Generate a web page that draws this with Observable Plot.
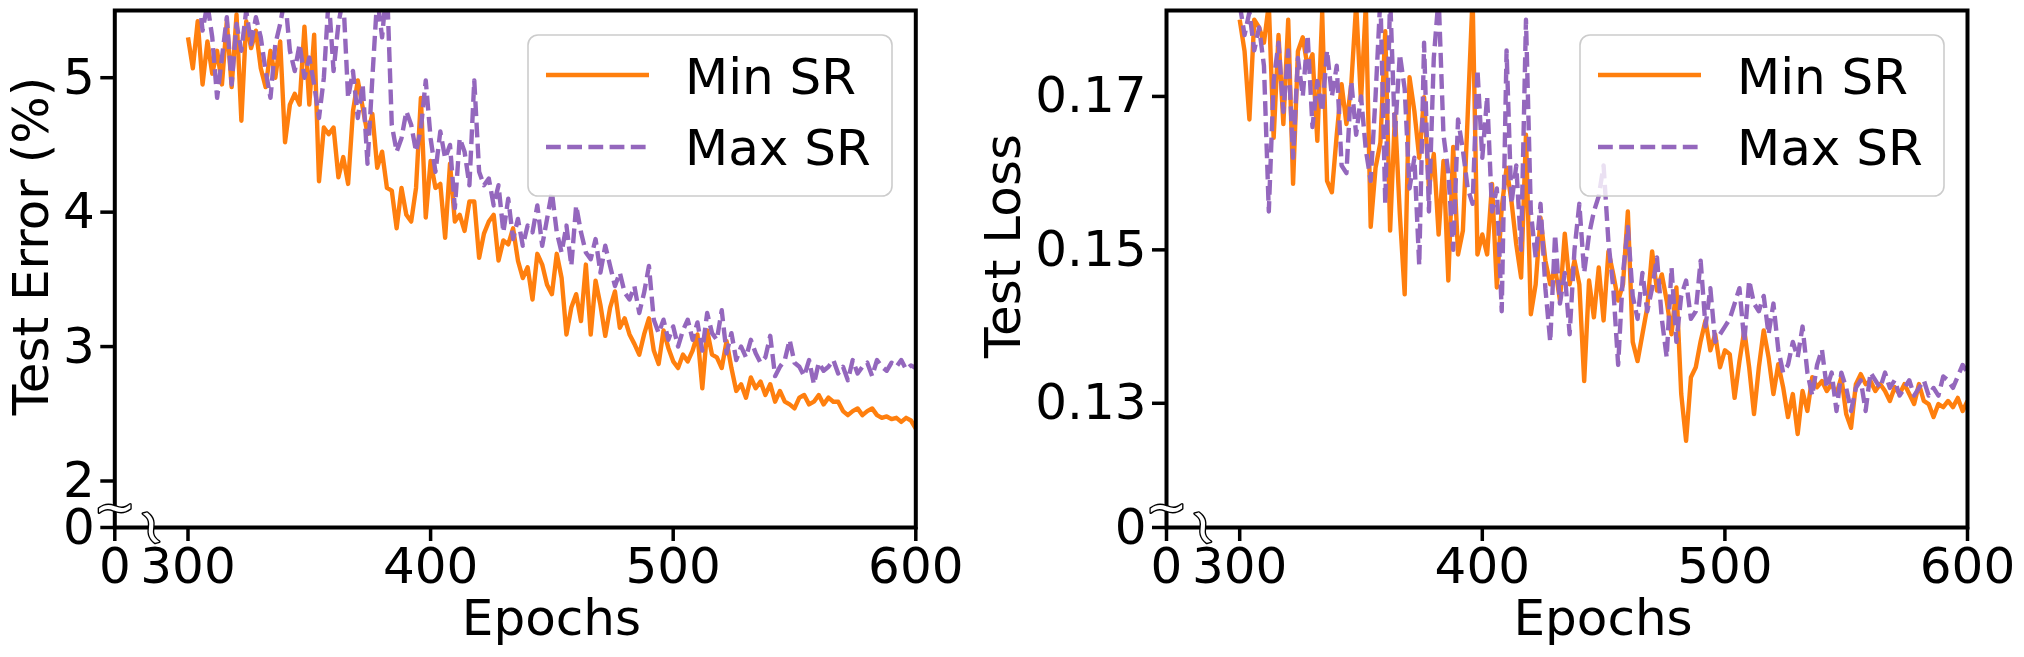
<!DOCTYPE html>
<html><head><meta charset="utf-8">
<script src="https://cdn.jsdelivr.net/npm/d3@7"></script>
<script src="https://cdn.jsdelivr.net/npm/@observablehq/plot@0.6"></script>
<style>
body{margin:0;background:#fff;}
#root{position:relative;width:2024px;height:657px;display:flex;font-family:"DejaVu Sans",sans-serif;background:#fff;}
.panel{position:relative;height:657px;}
.panel svg{overflow:visible;}
.panel svg.overlay{position:absolute;left:0;top:0;pointer-events:none;}
</style></head>
<body><div id="root"></div>
<script>
// ---------- data ----------
const epochs = d3.range(300, 601, 2);
const seriesNames = ["Min SR", "Max SR"];
const seriesColors = ["#ff7f0e", "#9467bd"];

const errMin = [
5.3,5.07,5.42,4.95,5.27,5.03,5.2,4.95,5.42,4.93,
5.47,4.68,5.42,5.22,5.35,5.07,4.93,5.2,5.0,5.27,
4.52,4.8,4.88,4.8,5.38,4.8,5.32,4.23,4.63,4.58,
4.63,4.26,4.41,4.21,4.75,4.98,4.78,4.58,4.73,4.33,
4.45,4.18,4.16,3.88,4.18,3.98,3.93,4.18,4.85,3.96,
4.38,4.18,4.21,3.81,4.36,3.93,3.98,3.86,4.08,4.08,
3.66,3.84,3.93,3.98,3.64,3.79,3.76,3.88,3.64,3.51,
3.59,3.35,3.69,
3.61,3.46,3.39,3.69,3.51,3.09,3.29,3.39,3.19,3.61,
3.09,3.49,3.31,3.08,3.29,3.41,3.14,3.21,3.09,3.02,
2.94,3.09,3.21,2.97,2.87,3.12,2.99,2.89,2.84,2.94,
2.89,2.97,3.09,2.69,3.12,2.94,2.92,2.84,3.04,2.84,
2.67,2.72,2.62,2.77,2.69,2.74,2.64,2.72,2.59,2.67,
2.59,2.57,2.54,2.62,2.64,2.57,2.59,2.64,2.57,2.62,
2.59,2.59,2.52,2.49,2.52,2.54,2.49,2.52,2.54,2.49,
2.47,2.48,2.46,2.47,2.44,2.47,2.45,2.39];

const errMax = [
5.6,5.55,5.7,5.35,5.55,5.3,4.85,5.15,5.45,4.95,
5.4,5.2,5.5,5.25,5.45,5.3,5.05,4.85,5.25,5.4,
5.6,5.2,5.05,5.25,5.0,5.15,4.95,4.7,5.0,5.6,
5.05,5.4,5.6,4.85,5.05,4.7,4.95,4.36,5.0,5.6,
5.3,5.7,4.65,4.45,4.55,4.75,4.65,4.45,4.62,4.98,
4.55,4.3,4.6,4.4,4.5,4.03,4.55,4.45,4.2,4.98,
4.3,4.2,4.25,4.05,4.2,3.85,4.1,3.8,3.95,3.75,
3.9,3.85,4.05,
3.75,3.95,4.15,3.85,3.7,3.9,3.6,4.05,3.85,3.7,
3.65,3.8,3.55,3.75,3.6,3.45,3.55,3.4,3.35,3.45,
3.25,3.4,3.6,3.2,3.1,3.2,3.05,3.15,3.0,3.12,
3.2,3.05,3.18,2.97,3.25,3.1,3.05,3.27,2.95,3.1,
2.9,3.0,2.92,3.05,2.95,2.88,2.92,3.08,2.78,2.85,
2.9,3.05,2.88,2.85,2.78,2.9,2.72,2.88,2.82,2.85,
2.9,2.8,2.85,2.75,2.9,2.8,2.85,2.88,2.78,2.9,
2.85,2.82,2.88,2.85,2.9,2.83,2.86,2.84];

const lossMin = [
0.180,0.1759,0.167,0.180,0.179,0.177,0.182,0.1646,0.178,0.1664,
0.180,0.1586,0.1759,0.1777,0.1738,0.1755,0.1642,0.181,0.159,0.1575,
0.165,0.1716,0.1664,0.1716,0.182,0.1694,0.182,0.153,0.1607,0.164,
0.1785,0.1525,0.1677,0.1547,0.1442,0.1725,0.1681,0.162,0.1699,0.158,
0.1625,0.152,0.1616,0.146,0.1634,0.1494,0.1525,0.1677,0.183,0.1494,
0.152,0.1494,0.1586,0.1451,0.1555,0.1607,0.1564,0.1507,0.1464,0.165,
0.1416,0.1455,0.1542,0.1486,0.1455,0.1477,0.1434,0.1521,0.1455,0.1486,
0.1455,0.1329,0.146,
0.1412,0.1477,0.1408,0.1498,0.1468,0.1434,0.1455,0.155,0.138,0.1355,
0.139,0.1425,0.1498,0.1447,0.1468,0.1434,0.139,0.1451,0.1312,0.1251,
0.1334,0.1347,0.1381,0.1408,0.1369,0.139,0.1347,0.1369,0.1364,0.1307,
0.1355,0.1395,0.1347,0.1286,0.1347,0.1395,0.136,0.1312,0.1351,0.1321,
0.1282,0.1312,0.126,0.1316,0.129,0.1334,0.1321,0.1329,0.1316,0.1325,
0.1312,0.1334,0.1286,0.1268,0.1325,0.1338,0.1325,0.1329,0.1316,0.1325,
0.1316,0.1303,0.1321,0.1312,0.1325,0.1312,0.1299,0.1325,0.1303,0.1299,
0.1282,0.1299,0.1295,0.1303,0.1295,0.1307,0.129,0.1303];

const lossMax = [
0.182,0.178,0.181,0.176,0.179,0.174,0.155,0.172,0.177,0.168,
0.176,0.162,0.175,0.17,0.178,0.166,0.172,0.168,0.176,0.17,
0.174,0.161,0.16,0.172,0.165,0.17,0.163,0.159,0.17,0.183,
0.156,0.183,0.165,0.1755,0.171,0.158,0.162,0.148,0.177,0.155,
0.175,0.183,0.165,0.16,0.15,0.167,0.163,0.158,0.156,0.1735,
0.162,0.17,0.155,0.158,0.142,0.176,0.156,0.161,0.15,0.180,
0.155,0.149,0.156,0.145,0.138,0.152,0.143,0.147,0.139,0.15,
0.156,0.147,0.152,
0.155,0.157,0.161,0.151,0.145,0.135,0.147,0.153,0.144,0.141,
0.147,0.142,0.145,0.149,0.141,0.136,0.1477,0.138,0.144,0.146,
0.141,0.142,0.1486,0.14,0.145,0.138,0.139,0.14,0.141,0.143,
0.145,0.138,0.146,0.143,0.142,0.144,0.139,0.143,0.137,0.134,
0.135,0.138,0.136,0.14,0.134,0.131,0.135,0.137,0.132,0.134,
0.129,0.134,0.132,0.129,0.132,0.133,0.129,0.134,0.133,0.132,
0.134,0.132,0.133,0.131,0.132,0.133,0.131,0.132,0.133,0.131,
0.132,0.131,0.1335,0.133,0.132,0.1335,0.135,0.134];

const xTicks = [0, 300, 400, 500, 600];
const errTicks = [0, 2, 3, 4, 5];
const lossTicks = [0, 0.13, 0.15, 0.17];

// ---------- drawing ----------
const W = 2024, H = 657;
const FONT = "DejaVu Sans";

function panel(cfg) {
  const rows = epochs.map((e, i) => ({epoch: e, a: cfg.a[i], b: cfg.b[i]}));
  const div = document.createElement("div");
  div.className = "panel";
  div.style.width = cfg.width + "px";
  div.style.zIndex = cfg.z;
  const chart = Plot.plot({
    width: cfg.width, height: H,
    marginLeft: cfg.frame.left, marginRight: cfg.width - cfg.frame.right,
    marginTop: cfg.frame.top, marginBottom: H - cfg.frame.bottom,
    style: {fontFamily: FONT, background: "transparent", overflow: "visible"},
    x: {type: "linear", domain: [0, 300, 600], range: [cfg.frame.left, cfg.frame.left + cfg.brkW, cfg.frame.right]},
    y: {type: "linear", domain: cfg.yDomain, range: [cfg.frame.bottom, cfg.frame.bottom - cfg.brkH, cfg.frame.top]},
    marks: [
      Plot.line(rows, {x: "epoch", y: "a", stroke: seriesColors[0], strokeWidth: 4.4, clip: true, strokeLinejoin: "round", strokeLinecap: "butt"}),
      Plot.line(rows, {x: "epoch", y: "b", stroke: seriesColors[1], strokeWidth: 4.4, clip: true, strokeDasharray: "14.8,6.4", strokeLinejoin: "round", strokeLinecap: "butt"}),
      Plot.frame({stroke: "black", strokeWidth: 4}),
      Plot.axisX({ticks: xTicks, tickSize: 14, tickPadding: 6, fontSize: 50, strokeWidth: 3.5, tickFormat: d => String(d), label: null, fill: "black"}),
      Plot.axisY({ticks: cfg.yTicks, tickSize: 14, tickPadding: 6, fontSize: 50, strokeWidth: 3.5, tickFormat: d => String(d), label: null, fill: "black"}),
      // axis-break symbols
      Plot.text([{x: (xTicks[0] + xTicks[1]) / 2, y: cfg.yTicks[0]}], {x: "x", y: "y", text: () => "~", rotate: 75, fontSize: 50, fill: "white", stroke: "black", strokeWidth: 2.8, paintOrder: "stroke"}),
      Plot.text([{x: xTicks[0], y: (cfg.yTicks[0] + cfg.yDomain[1]) * 0.42}], {x: "x", y: "y", text: () => "~", fontSize: 50, fill: "white", stroke: "black", strokeWidth: 2.8, paintOrder: "stroke"})
    ]
  });
  div.appendChild(chart);

  // overlay: axis titles and legend
  const ns = "http://www.w3.org/2000/svg";
  const ov = document.createElementNS(ns, "svg");
  ov.setAttribute("class", "overlay");
  ov.setAttribute("width", cfg.width);
  ov.setAttribute("height", H);
  ov.setAttribute("font-family", FONT);
  const L = cfg.legend;
  let s = "";
  s += `<text transform="translate(${cfg.yLabelX},246) rotate(-90)" text-anchor="middle" font-size="50" fill="black">${cfg.yLabel}</text>`;
  s += `<text x="${(cfg.frame.left + cfg.brkW + cfg.frame.right) / 2}" y="635" text-anchor="middle" font-size="50" fill="black">Epochs</text>`;
  s += `<rect x="${L.x}" y="35" width="364" height="161" rx="10" ry="10" fill="white" fill-opacity="0.8" stroke="#cccccc" stroke-width="1.6"/>`;
  s += `<line x1="${L.x + 18}" x2="${L.x + 121}" y1="75" y2="75" stroke="${seriesColors[0]}" stroke-width="4.3"/>`;
  s += `<line x1="${L.x + 18}" x2="${L.x + 121}" y1="147" y2="147" stroke="${seriesColors[1]}" stroke-width="4.3" stroke-dasharray="14.8,6.4"/>`;
  s += `<text x="${L.x + 157}" y="94" font-size="50" fill="black">${seriesNames[0]}</text>`;
  s += `<text x="${L.x + 157}" y="165" font-size="50" fill="black">${seriesNames[1]}</text>`;
  ov.innerHTML = s;
  div.appendChild(ov);
  return div;
}

const root = document.getElementById("root");
root.appendChild(panel({
  width: 940, a: errMin, b: errMax, z: 2,
  frame: {left: 114.3, right: 915.3, top: 10, bottom: 527},
  brkW: 73.2, brkH: 46.5,
  yDomain: [0, 2, 5.5], yTicks: errTicks,
  yLabel: "Test Error (%)", yLabelX: 48,
  legend: {x: 528}
}));
root.appendChild(panel({
  width: 1084, a: lossMin, b: lossMax, z: 1,
  frame: {left: 226, right: 1027, top: 10, bottom: 527},
  brkW: 73.2, brkH: 47.5,
  yDomain: [0, 0.12, 0.1812], yTicks: lossTicks,
  yLabel: "Test Loss", yLabelX: 80,
  legend: {x: 640}
}));
</script>
</body></html>
